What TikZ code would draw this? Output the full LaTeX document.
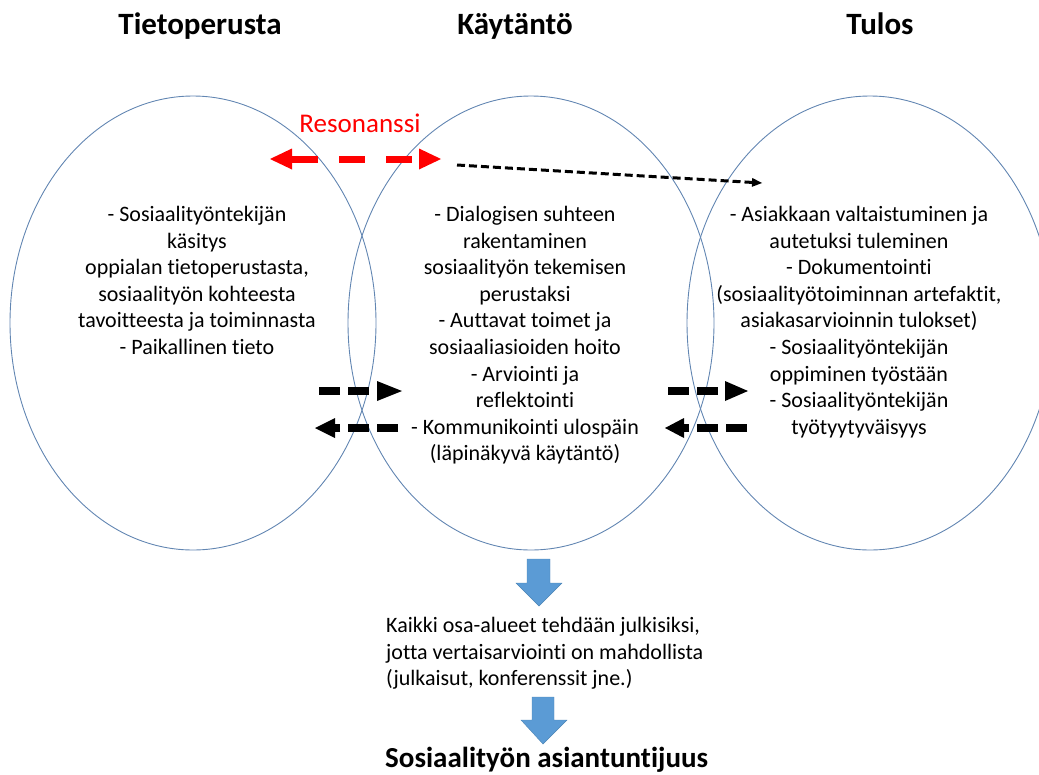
\documentclass[tikz,border=0pt]{standalone}
\usepackage{fontspec}
\setmainfont{Carlito}[Ligatures=NoCommon]
\usetikzlibrary{shapes.geometric,calc}
\definecolor{ringblue}{RGB}{98,134,178}
\definecolor{flowblue}{RGB}{91,155,213}
\definecolor{resored}{RGB}{255,0,0}
\begin{document}
\begin{tikzpicture}[x=1pt,y=-1pt,
    heading/.style={font=\fontsize{31}{36}\selectfont\bfseries},
    body/.style={font=\fontsize{22}{26.6}\selectfont, align=center, inner sep=0pt},
    ring/.style={draw=ringblue, line width=0.9pt, ellipse, minimum width=366pt, minimum height=454pt, inner sep=0pt},
    bigdash/.style={line width=8pt, dash pattern=on 21pt off 8pt},
    flow/.style={fill=flowblue, draw=flowblue!85!black, line width=0.4pt}]
    \useasboundingbox (0,0) rectangle (1039,774);
    % three areas
    \node[ring] (tieto) at (193,323) {};
    \node[ring] (kaytanto) at (531,323) {};
    \node[ring] (tulos) at (870,323) {};
    \node[heading, anchor=base] (htieto) at (200,34) {Tietoperusta};
    \node[heading, anchor=base] (hkaytanto) at (515,34) {Käytäntö};
    \node[heading, anchor=base] (htulos) at (880,34) {Tulos};
    \node[body, anchor=north] (ttieto) at (197,206) {- Sosiaalityöntekijän\\käsitys\\oppialan tietoperustasta,\\sosiaalityön kohteesta\\tavoitteesta ja toiminnasta\\- Paikallinen tieto};
    \node[body, anchor=north] (tkaytanto) at (525,206) {- Dialogisen suhteen\\rakentaminen\\sosiaalityön tekemisen\\perustaksi\\- Auttavat toimet ja\\sosiaaliasioiden hoito\\- Arviointi ja\\reflektointi\\- Kommunikointi ulospäin\\(läpinäkyvä käytäntö)};
    \node[body, anchor=north] (ttulos) at (859,206) {- Asiakkaan valtaistuminen ja\\autetuksi tuleminen\\- Dokumentointi\\(sosiaalityötoiminnan artefaktit,\\asiakasarvioinnin tulokset)\\- Sosiaalityöntekijän\\oppiminen työstään\\- Sosiaalityöntekijän\\työtyytyväisyys};
    % resonance
    \node[font=\fontsize{27}{32}\selectfont, text=resored, anchor=base] (reso) at (360,132) {Resonanssi};
    \coordinate (ra) at (270,159);
    \coordinate (rb) at (441,159);
    \draw[resored, line width=7pt, dash pattern=on 26pt off 21pt] ([xshift=22pt]ra) -- ([xshift=-22pt]rb);
    \fill[resored] (ra) -- ++(22,-10.5) -- ++(0,21) -- cycle;
    \fill[resored] (rb) -- ++(-22,-10.5) -- ++(0,21) -- cycle;
    \coordinate (ta) at (457,165);
    \coordinate (tb) at (762,183);
    \coordinate (tc) at ($(tb)!10pt!(ta)$);
    \draw[line width=3pt, dash pattern=on 8pt off 4pt] (ta) -- (tc);
    \fill (tb) -- ($(tc)!4.5pt!90:(tb)$) -- ($(tc)!4.5pt!-90:(tb)$) -- cycle;
    % exchange between the areas
    \coordinate (la) at (319,391);
    \coordinate (lb) at (402,391);
    \draw[bigdash] (la) -- ([xshift=-25pt]lb);
    \fill (lb) -- ++(-25,-10) -- ++(0,20) -- cycle;
    \coordinate (lc) at (398,428);
    \coordinate (ld) at (315,428);
    \draw[bigdash] (lc) -- ([xshift=20pt]ld);
    \fill (ld) -- ++(20,-10) -- ++(0,20) -- cycle;
    \coordinate (ma) at (668,391);
    \coordinate (mb) at (748,391);
    \draw[bigdash] (ma) -- ([xshift=-23pt]mb);
    \fill (mb) -- ++(-23,-10) -- ++(0,20) -- cycle;
    \coordinate (mc) at (747,428);
    \coordinate (md) at (665,428);
    \draw[bigdash] (mc) -- ([xshift=19pt]md);
    \fill (md) -- ++(19,-10) -- ++(0,20) -- cycle;
    % towards expertise
    \draw[flow] (527,559) -- (550,559) -- (550,583) -- (562,583) -- (539,606) -- (516,583) -- (527,583) -- cycle;
    \node[body, align=left, anchor=north west] (julki) at (386,617) {Kaikki osa-alueet tehdään julkisiksi,\\jotta vertaisarviointi on mahdollista\\(julkaisut, konferenssit jne.)};
    \draw[flow] (532,697) -- (554,697) -- (554,720) -- (567,720) -- (543,744) -- (521,720) -- (532,720) -- cycle;
    \node[font=\fontsize{29}{34}\selectfont\bfseries, anchor=base west, inner sep=0pt] (asiant) at (385,767) {Sosiaalityön asiantuntijuus};
\end{tikzpicture}
\end{document}
